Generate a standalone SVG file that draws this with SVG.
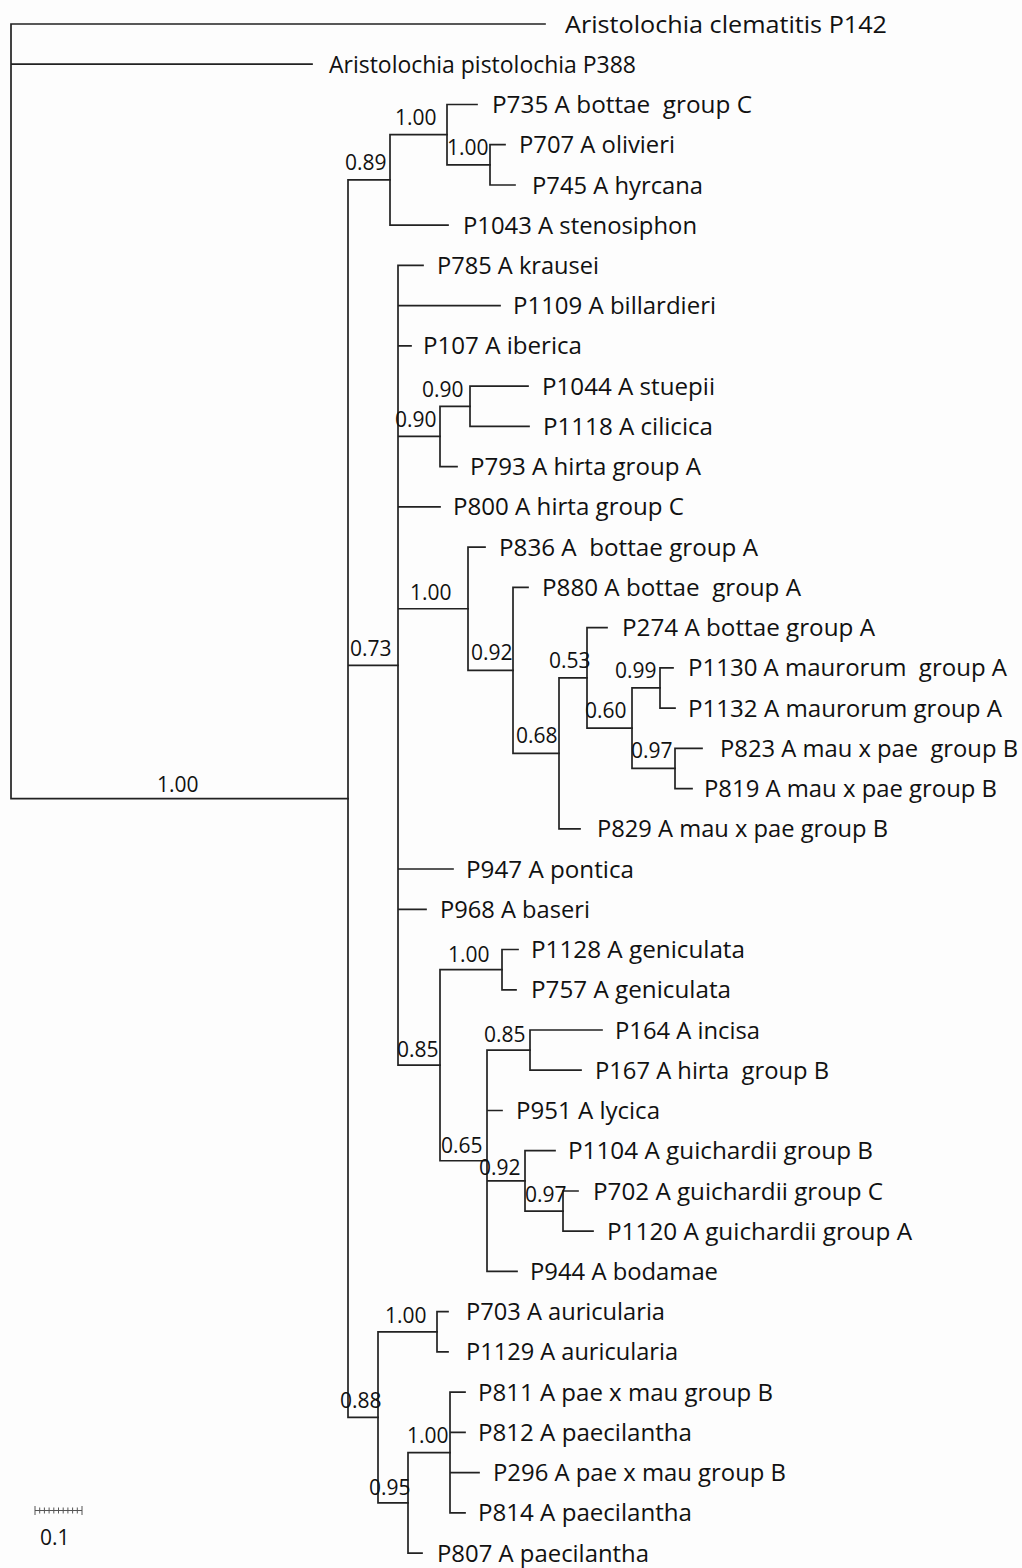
<svg xmlns="http://www.w3.org/2000/svg" width="1022" height="1568" viewBox="0 0 1022 1568">
  <style>
    .br { fill: none; stroke: #222; stroke-width: 1.7; stroke-linecap: square; }
    .tx { font-family: "Open Sans", "Noto Sans", "Liberation Sans", sans-serif; font-size: 24px; fill: #111; }
    .sp { font-family: "Open Sans", "Noto Sans", "Liberation Sans", sans-serif; font-size: 21px; fill: #111; }
    .sb { fill: none; stroke: #555; stroke-width: 1; }
  </style>
  <rect width="1022" height="1568" fill="#fdfdfd"/>

  <!-- branches -->
  <g id="connectors">
    <path class="br" d="M11,24 V798.6 M11,24 H545 M11,64.2 H312 M11,798.6 H348"/>
    <path class="br" d="M348,179.95 V1417.3 M348,179.95 H390 M348,665.3 H398 M348,1417.3 H378"/>
    <path class="br" d="M390,134.7 V225.2 M390,134.7 H447 M390,225.2 H448"/>
    <path class="br" d="M447,104.5 V164.85 M447,104.5 H477 M447,164.85 H490"/>
    <path class="br" d="M490,144.7 V185 M490,144.7 H505 M490,185 H515"/>
    <path class="br" d="M398,265.4 V1065.2 M398,265.4 H423 M398,305.7 H500 M398,345.9 H411 M398,436.45 H440 M398,506.9 H440 M398,608.75 H468 M398,869 H453 M398,909.3 H426 M398,1065.2 H440"/>
    <path class="br" d="M440,406.3 V466.6 M440,406.3 H470 M440,466.6 H457"/>
    <path class="br" d="M470,386.2 V426.4 M470,386.2 H528 M470,426.4 H529"/>
    <path class="br" d="M468,547.1 V670.4 M468,547.1 H485 M468,670.4 H513"/>
    <path class="br" d="M513,587.4 V753.35 M513,587.4 H528 M513,753.35 H559"/>
    <path class="br" d="M559,677.9 V828.8 M559,677.9 H587 M559,828.8 H580"/>
    <path class="br" d="M587,627.6 V728.2 M587,627.6 H607 M587,728.2 H632"/>
    <path class="br" d="M632,687.95 V768.45 M632,687.95 H660 M632,768.45 H675"/>
    <path class="br" d="M660,667.8 V708.1 M660,667.8 H673 M660,708.1 H675"/>
    <path class="br" d="M675,748.3 V788.6 M675,748.3 H702 M675,788.6 H692"/>
    <path class="br" d="M440,969.65 V1160.75 M440,969.65 H502 M440,1160.75 H487"/>
    <path class="br" d="M502,949.5 V989.8 M502,949.5 H518 M502,989.8 H516"/>
    <path class="br" d="M487,1050.1 V1271.4 M487,1050.1 H530 M487,1110.5 H502 M487,1180.9 H525 M487,1271.4 H517"/>
    <path class="br" d="M530,1030 V1070.2 M530,1030 H602 M530,1070.2 H581"/>
    <path class="br" d="M525,1150.7 V1211.1 M525,1150.7 H555 M525,1211.1 H563"/>
    <path class="br" d="M563,1191 V1231.2 M563,1191 H578 M563,1231.2 H593"/>
    <path class="br" d="M378,1331.8 V1502.8 M378,1331.8 H437 M378,1502.8 H408"/>
    <path class="br" d="M437,1311.7 V1351.9 M437,1311.7 H448 M437,1351.9 H448"/>
    <path class="br" d="M408,1452.55 V1553.1 M408,1452.55 H450 M408,1553.1 H422"/>
    <path class="br" d="M450,1392.2 V1512.9 M450,1392.2 H465 M450,1432.4 H465 M450,1472.6 H479 M450,1512.9 H465"/>
  </g>

  <!-- support values at internal nodes -->
  <g id="node-ingroup"><text class="sp" x="157" y="792">1.00</text></g>
  <g id="node-089"><text class="sp" x="345" y="170">0.89</text></g>
  <g id="node-100a"><text class="sp" x="395" y="125">1.00</text></g>
  <g id="node-100b"><text class="sp" x="447" y="155">1.00</text></g>
  <g id="node-090i"><text class="sp" x="422" y="397">0.90</text></g>
  <g id="node-090o"><text class="sp" x="395" y="427">0.90</text></g>
  <g id="node-073"><text class="sp" x="350" y="656">0.73</text></g>
  <g id="node-100c"><text class="sp" x="410" y="600">1.00</text></g>
  <g id="node-092"><text class="sp" x="471" y="660">0.92</text></g>
  <g id="node-053"><text class="sp" x="549" y="668">0.53</text></g>
  <g id="node-068"><text class="sp" x="516" y="743">0.68</text></g>
  <g id="node-099"><text class="sp" x="615" y="678">0.99</text></g>
  <g id="node-060"><text class="sp" x="585" y="718">0.60</text></g>
  <g id="node-097"><text class="sp" x="631" y="758">0.97</text></g>
  <g id="node-100g"><text class="sp" x="448" y="962">1.00</text></g>
  <g id="node-085o"><text class="sp" x="397" y="1057">0.85</text></g>
  <g id="node-085i"><text class="sp" x="484" y="1042">0.85</text></g>
  <g id="node-065"><text class="sp" x="441" y="1153">0.65</text></g>
  <g id="node-092g"><text class="sp" x="479" y="1175">0.92</text></g>
  <g id="node-097g"><text class="sp" x="525" y="1202">0.97</text></g>
  <g id="node-100au"><text class="sp" x="385" y="1323">1.00</text></g>
  <g id="node-088"><text class="sp" x="340" y="1408">0.88</text></g>
  <g id="node-100p"><text class="sp" x="407" y="1443">1.00</text></g>
  <g id="node-095"><text class="sp" x="369" y="1495">0.95</text></g>

  <!-- terminal taxa -->
  <g id="leaf-P142"><text class="tx" x="565" y="32.5" textLength="322" lengthAdjust="spacingAndGlyphs">Aristolochia clematitis P142</text></g>
  <g id="leaf-P388"><text class="tx" x="329" y="72.7" textLength="307" lengthAdjust="spacingAndGlyphs">Aristolochia pistolochia P388</text></g>
  <g id="leaf-P735"><text class="tx" x="492" y="113" textLength="260" lengthAdjust="spacingAndGlyphs" xml:space="preserve">P735 A bottae  group C</text></g>
  <g id="leaf-P707"><text class="tx" x="519" y="153.2" textLength="156" lengthAdjust="spacingAndGlyphs">P707 A olivieri</text></g>
  <g id="leaf-P745"><text class="tx" x="532" y="193.5" textLength="171" lengthAdjust="spacingAndGlyphs">P745 A hyrcana</text></g>
  <g id="leaf-P1043"><text class="tx" x="463" y="233.7" textLength="234" lengthAdjust="spacingAndGlyphs">P1043 A stenosiphon</text></g>
  <g id="leaf-P785"><text class="tx" x="437" y="273.9" textLength="162" lengthAdjust="spacingAndGlyphs">P785 A krausei</text></g>
  <g id="leaf-P1109"><text class="tx" x="513" y="314.2" textLength="203" lengthAdjust="spacingAndGlyphs">P1109 A billardieri</text></g>
  <g id="leaf-P107"><text class="tx" x="423" y="354.4" textLength="159" lengthAdjust="spacingAndGlyphs">P107 A iberica</text></g>
  <g id="leaf-P1044"><text class="tx" x="542" y="394.7" textLength="173" lengthAdjust="spacingAndGlyphs">P1044 A stuepii</text></g>
  <g id="leaf-P1118"><text class="tx" x="543" y="434.9" textLength="170" lengthAdjust="spacingAndGlyphs">P1118 A cilicica</text></g>
  <g id="leaf-P793"><text class="tx" x="470" y="475.1" textLength="231" lengthAdjust="spacingAndGlyphs">P793 A hirta group A</text></g>
  <g id="leaf-P800"><text class="tx" x="453" y="515.4" textLength="231" lengthAdjust="spacingAndGlyphs">P800 A hirta group C</text></g>
  <g id="leaf-P836"><text class="tx" x="499" y="555.6" textLength="259" lengthAdjust="spacingAndGlyphs" xml:space="preserve">P836 A  bottae group A</text></g>
  <g id="leaf-P880"><text class="tx" x="542" y="595.9" textLength="259" lengthAdjust="spacingAndGlyphs" xml:space="preserve">P880 A bottae  group A</text></g>
  <g id="leaf-P274"><text class="tx" x="622" y="636.1" textLength="253" lengthAdjust="spacingAndGlyphs">P274 A bottae group A</text></g>
  <g id="leaf-P1130"><text class="tx" x="688" y="676.3" textLength="319" lengthAdjust="spacingAndGlyphs" xml:space="preserve">P1130 A maurorum  group A</text></g>
  <g id="leaf-P1132"><text class="tx" x="688" y="716.6" textLength="314" lengthAdjust="spacingAndGlyphs">P1132 A maurorum group A</text></g>
  <g id="leaf-P823"><text class="tx" x="720" y="756.8" textLength="298" lengthAdjust="spacingAndGlyphs" xml:space="preserve">P823 A mau x pae  group B</text></g>
  <g id="leaf-P819"><text class="tx" x="704" y="797.1" textLength="293" lengthAdjust="spacingAndGlyphs">P819 A mau x pae group B</text></g>
  <g id="leaf-P829"><text class="tx" x="597" y="837.3" textLength="291" lengthAdjust="spacingAndGlyphs">P829 A mau x pae group B</text></g>
  <g id="leaf-P947"><text class="tx" x="466" y="877.5" textLength="168" lengthAdjust="spacingAndGlyphs">P947 A pontica</text></g>
  <g id="leaf-P968"><text class="tx" x="440" y="917.8" textLength="150" lengthAdjust="spacingAndGlyphs">P968 A baseri</text></g>
  <g id="leaf-P1128"><text class="tx" x="531" y="958" textLength="214" lengthAdjust="spacingAndGlyphs">P1128 A geniculata</text></g>
  <g id="leaf-P757"><text class="tx" x="531" y="998.3" textLength="200" lengthAdjust="spacingAndGlyphs">P757 A geniculata</text></g>
  <g id="leaf-P164"><text class="tx" x="615" y="1038.5" textLength="145" lengthAdjust="spacingAndGlyphs">P164 A incisa</text></g>
  <g id="leaf-P167"><text class="tx" x="595" y="1078.7" textLength="234" lengthAdjust="spacingAndGlyphs" xml:space="preserve">P167 A hirta  group B</text></g>
  <g id="leaf-P951"><text class="tx" x="516" y="1119" textLength="144" lengthAdjust="spacingAndGlyphs">P951 A lycica</text></g>
  <g id="leaf-P1104"><text class="tx" x="568" y="1159.2" textLength="305" lengthAdjust="spacingAndGlyphs">P1104 A guichardii group B</text></g>
  <g id="leaf-P702"><text class="tx" x="593" y="1199.5" textLength="290" lengthAdjust="spacingAndGlyphs">P702 A guichardii group C</text></g>
  <g id="leaf-P1120"><text class="tx" x="607" y="1239.7" textLength="305" lengthAdjust="spacingAndGlyphs">P1120 A guichardii group A</text></g>
  <g id="leaf-P944"><text class="tx" x="530" y="1279.9" textLength="188" lengthAdjust="spacingAndGlyphs">P944 A bodamae</text></g>
  <g id="leaf-P703"><text class="tx" x="466" y="1320.2" textLength="199" lengthAdjust="spacingAndGlyphs">P703 A auricularia</text></g>
  <g id="leaf-P1129"><text class="tx" x="466" y="1360.4" textLength="212" lengthAdjust="spacingAndGlyphs">P1129 A auricularia</text></g>
  <g id="leaf-P811"><text class="tx" x="478" y="1400.7" textLength="295" lengthAdjust="spacingAndGlyphs">P811 A pae x mau group B</text></g>
  <g id="leaf-P812"><text class="tx" x="478" y="1440.9" textLength="214" lengthAdjust="spacingAndGlyphs">P812 A paecilantha</text></g>
  <g id="leaf-P296"><text class="tx" x="493" y="1481.1" textLength="293" lengthAdjust="spacingAndGlyphs">P296 A pae x mau group B</text></g>
  <g id="leaf-P814"><text class="tx" x="478" y="1521.4" textLength="214" lengthAdjust="spacingAndGlyphs">P814 A paecilantha</text></g>
  <g id="leaf-P807"><text class="tx" x="437" y="1561.6" textLength="212" lengthAdjust="spacingAndGlyphs">P807 A paecilantha</text></g>

  <!-- scale bar -->
  <g id="scale-bar">
    <path class="sb" d="M35,1510.5 H82 M35,1506 V1515 M82,1506 V1515 M39.7,1507.5 V1513.5 M44.4,1507.5 V1513.5 M49.1,1507.5 V1513.5 M53.8,1507.5 V1513.5 M58.5,1507.5 V1513.5 M63.2,1507.5 V1513.5 M67.9,1507.5 V1513.5 M72.6,1507.5 V1513.5 M77.3,1507.5 V1513.5"/>
    <text class="sp" x="40" y="1545">0.1</text>
  </g>
</svg>
